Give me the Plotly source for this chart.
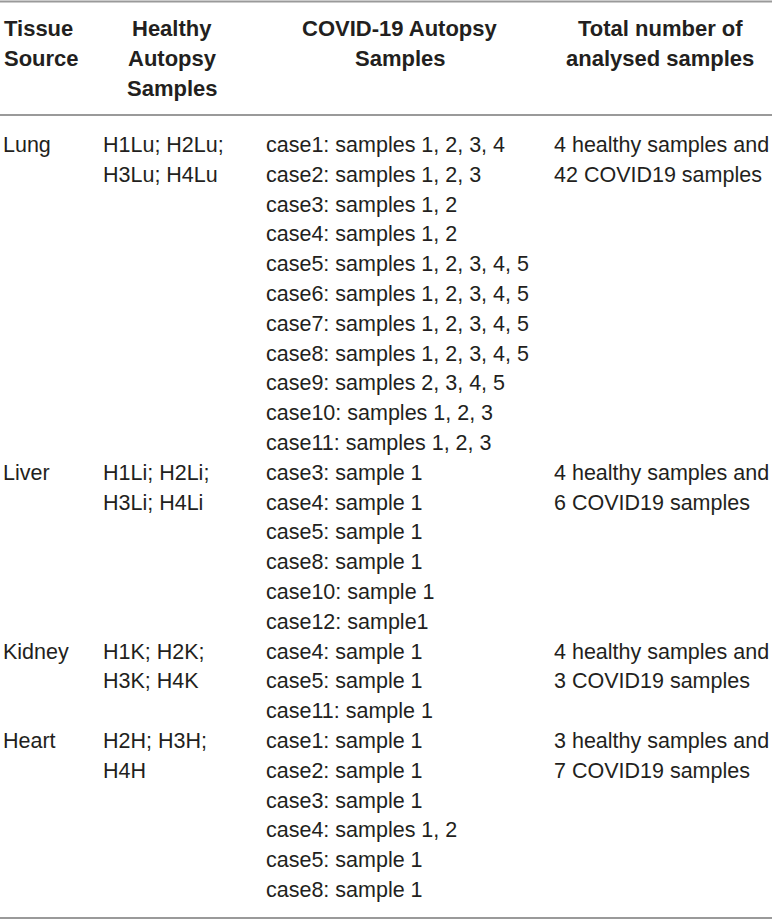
import plotly.graph_objects as go

# Table content
header_tissue = ["Tissue", "Source"]
header_healthy = ["Healthy", "Autopsy", "Samples"]
header_covid = ["COVID-19 Autopsy", "Samples"]
header_total = ["Total number of", "analysed samples"]

tissues = ["Lung", "Liver", "Kidney", "Heart"]
healthy = [
    ["H1Lu; H2Lu;", "H3Lu; H4Lu"],
    ["H1Li; H2Li;", "H3Li; H4Li"],
    ["H1K; H2K;", "H3K; H4K"],
    ["H2H; H3H;", "H4H"],
]
covid = [
    ["case1: samples 1, 2, 3, 4", "case2: samples 1, 2, 3", "case3: samples 1, 2",
     "case4: samples 1, 2", "case5: samples 1, 2, 3, 4, 5", "case6: samples 1, 2, 3, 4, 5",
     "case7: samples 1, 2, 3, 4, 5", "case8: samples 1, 2, 3, 4, 5", "case9: samples 2, 3, 4, 5",
     "case10: samples 1, 2, 3", "case11: samples 1, 2, 3"],
    ["case3: sample 1", "case4: sample 1", "case5: sample 1", "case8: sample 1",
     "case10: sample 1", "case12: sample1"],
    ["case4: sample 1", "case5: sample 1", "case11: sample 1"],
    ["case1: sample 1", "case2: sample 1", "case3: sample 1", "case4: samples 1, 2",
     "case5: sample 1", "case8: sample 1"],
]
totals = [
    ["4 healthy samples and", "42 COVID19 samples"],
    ["4 healthy samples and", "6 COVID19 samples"],
    ["4 healthy samples and", "3 COVID19 samples"],
    ["3 healthy samples and", "7 COVID19 samples"],
]

W, H = 772, 922
TXT = "#231f20"
RULE = "#9a9a9a"
FONT = "Liberation Sans, Arial, sans-serif"
HEAD_Y0, HEAD_DY = 28, 30
BODY_Y0, BODY_DY = 145, 29.8

annotations = []


def add(text, x, y, xanchor="left", bold=False):
    annotations.append(dict(
        text=text, x=x, y=y, xref="x", yref="y", xanchor=xanchor, yanchor="middle",
        showarrow=False,
        font=dict(family=FONT, size=22 if bold else 21.5, color=TXT,
                  weight="bold" if bold else "normal"),
    ))


# header
for i, t in enumerate(header_tissue):
    add(t, 2, HEAD_Y0 + i * HEAD_DY, bold=True)
for i, t in enumerate(header_healthy):
    add(t, 172, HEAD_Y0 + i * HEAD_DY, "center", bold=True)
for i, t in enumerate(header_covid):
    add(t, 400, HEAD_Y0 + i * HEAD_DY, "center", bold=True)
for i, t in enumerate(header_total):
    add(t, 660, HEAD_Y0 + i * HEAD_DY, "center", bold=True)

# body
line = 0
for tissue, h, c, tot in zip(tissues, healthy, covid, totals):
    y0 = BODY_Y0 + line * BODY_DY
    add(tissue, 1, y0)
    for j, t in enumerate(h):
        add(t, 101, y0 + j * BODY_DY)
    for j, t in enumerate(c):
        add(t, 264, y0 + j * BODY_DY)
    for j, t in enumerate(tot):
        add(t, 552, y0 + j * BODY_DY)
    line += len(c)

shapes = [
    dict(type="line", xref="x", yref="y", x0=0, x1=W, y0=y, y1=y,
         line=dict(color=RULE, width=2))
    for y in (1.5, 115, 918)
]

fig = go.Figure()
fig.update_layout(
    width=W, height=H, margin=dict(l=0, r=0, t=0, b=0),
    paper_bgcolor="white", plot_bgcolor="white",
    xaxis=dict(range=[0, W], visible=False, fixedrange=True),
    yaxis=dict(range=[H, 0], visible=False, fixedrange=True),
    annotations=annotations, shapes=shapes, showlegend=False,
)
# drop the browser's default body margin so the figure sits at the page corner
fig.write_html("out.html", config={"displayModeBar": False},
               post_script="document.body.style.margin='0';")
